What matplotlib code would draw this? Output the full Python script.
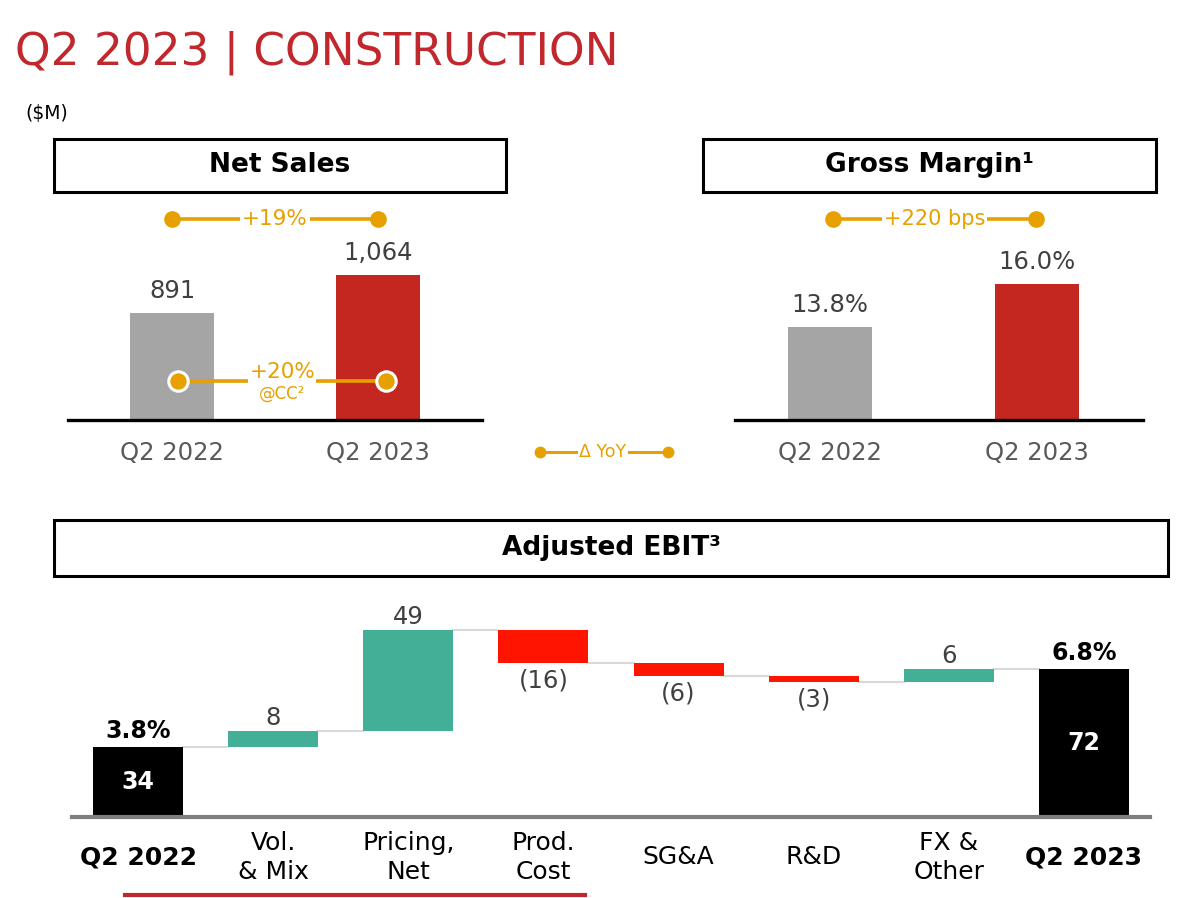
#!/usr/bin/env python3
"""Q2 2023 construction segment: net sales, gross margin and adjusted EBIT bridge."""
import matplotlib; matplotlib.use("Agg")
import matplotlib.pyplot as plt
from matplotlib.patches import Rectangle
from matplotlib.lines import Line2D

# --- data -------------------------------------------------------------
periods = ["Q2 2022", "Q2 2023"]
net_sales = [891, 1064]
gross_margin = [13.8, 16.0]
ns_yoy = "+19%"
ns_cc = "+20%"
gm_yoy = "+220 bps"

bridge_cats = ["Q2 2022", "Vol.\n& Mix", "Pricing,\nNet", "Prod.\nCost",
               "SG&A", "R&D", "FX &\nOther", "Q2 2023"]
ebit_start, ebit_end = 34, 72
bridge_deltas = [8, 49, -16, -6, -3, 6]
ebit_margins = ["3.8%", "6.8%"]

# --- styling ----------------------------------------------------------
RED_T = "#C0282D"
GREY = "#A5A5A5"
RED = "#C4271F"
GOLD = "#E6A000"
TEAL = "#43AF97"
NEG = "#FF1400"
TXT = "#404040"

W, H = 1200, 898
fig = plt.figure(figsize=(W / 100, H / 100), dpi=100)
plt.rcParams["font.family"] = "DejaVu Sans"


def rect(x0, y0, x1, y1):
    return [x0 / W, 1 - y1 / H, (x1 - x0) / W, (y1 - y0) / H]


def header(x0, y0, x1, y1, label):
    fig.add_artist(Rectangle((x0 / W, 1 - y1 / H), (x1 - x0) / W, (y1 - y0) / H,
                             transform=fig.transFigure, fill=False, ec="black", lw=2.2))
    fig.text((x0 + x1) / 2 / W, 1 - (y0 + y1) / 2 / H, label, ha="center",
             va="center", fontsize=19, fontweight="bold")


def connector(ax, x0, x1, yf, label, ms=12, ring=False, fs=15):
    tr = ax.get_xaxis_transform()
    ax.plot([x0, x1], [yf, yf], color=GOLD, lw=2.6, transform=tr, clip_on=False, zorder=4)
    ax.plot([x0, x1], [yf, yf], "o", color=GOLD, ms=ms, transform=tr, clip_on=False,
            zorder=6, mec="white" if ring else GOLD, mew=2.2 if ring else 0)
    ax.text((x0 + x1) / 2, yf, label, transform=tr, ha="center", va="center",
            fontsize=fs, color=GOLD, zorder=5,
            bbox=dict(fc="white", ec="none", pad=1.5))


fig.text(15 / W, 1 - 53 / H, "Q2 2023 | CONSTRUCTION", fontsize=32.7, color=RED_T,
         va="center", ha="left")
fig.text(25 / W, 1 - 113 / H, "($M)", fontsize=13.5, color="black", va="center")

header(54, 139, 506, 192, "Net Sales")
header(703, 139, 1156, 192, "Gross Margin\u00b9")
header(54, 520, 1168, 576, "Adjusted EBIT\u00b3")


def top_chart(ax, vals, fmt, ylim):
    x = range(len(vals))
    ax.bar(x, vals, width=0.405, color=[GREY, RED], zorder=2)
    for i, v in enumerate(vals):
        ax.annotate(fmt(v), (i, v), xytext=(0, 7), textcoords="offset points",
                    ha="center", va="bottom", fontsize=17.5, color=TXT)
    ax.set_ylim(*ylim)
    ax.set_yticks([])
    for s in ("top", "left", "right"):
        ax.spines[s].set_visible(False)
    ax.spines["bottom"].set_linewidth(2.4)
    ax.set_xticks(list(x), periods)
    ax.tick_params(axis="x", length=0, pad=24, labelsize=17.5, labelcolor="#595959")
    for lbl in ax.get_xticklabels():
        lbl.set_va("center")


# Net sales
ax1 = fig.add_axes(rect(68, 200, 482, 420))
top_chart(ax1, net_sales, lambda v: f"{v:,}", (404, 404 + 220 * 4.553))
ax1.set_xlim(-0.505, 1.505)
connector(ax1, 0, 1, (420 - 219) / 220, ns_yoy, fs=15.5)
connector(ax1, 0.03, 1.04, (420 - 381) / 220, "", ms=14, ring=True)
ax1.text(0.535, (420 - 372) / 220, ns_cc, transform=ax1.get_xaxis_transform(),
         ha="center", va="center", fontsize=15.5, color=GOLD, zorder=5,
         bbox=dict(fc="white", ec="none", pad=1))
ax1.text(0.535, (420 - 394) / 220, "@CC\u00b2", transform=ax1.get_xaxis_transform(),
         ha="center", va="center", fontsize=12, color=GOLD, zorder=5)

# Gross margin
ax2 = fig.add_axes(rect(735, 200, 1143, 420))
top_chart(ax2, gross_margin, lambda v: f"{v:.1f}%", (9.04, 9.04 + 220 * 0.05116))
ax2.set_xlim(-0.459, 1.512)
connector(ax2, 0.015, 0.995, (420 - 219) / 220, gm_yoy, fs=15)

# Delta YoY key
fig.add_artist(Line2D([540 / W, 668 / W], [1 - 452 / H] * 2, color=GOLD, lw=2.2,
                      marker="o", ms=7.5, transform=fig.transFigure))
fig.text(603 / W, 1 - 452 / H, "\u0394 YoY", ha="center", va="center", fontsize=12.5,
         color=GOLD, bbox=dict(fc="white", ec="none", pad=1))

# Adjusted EBIT bridge
ax3 = fig.add_axes(rect(72, 600, 1150, 817))
bw = 0.666
ax3.bar(0, ebit_start, width=bw, color="black", zorder=2)
running = ebit_start
levels = [running]
for i, d in enumerate(bridge_deltas, start=1):
    ax3.bar(i, d, bottom=running, width=bw, color=TEAL if d > 0 else NEG, zorder=2)
    if d > 0:
        ax3.annotate(f"{d}", (i, running + d), xytext=(0, 1), textcoords="offset points",
                     ha="center", va="bottom", fontsize=17.5, color=TXT)
    else:
        ax3.annotate(f"({-d})", (i, running + d), xytext=(0, -4), textcoords="offset points",
                     ha="center", va="top", fontsize=17.5, color=TXT)
    running += d
    levels.append(running)
last = len(bridge_cats) - 1
ax3.bar(last, ebit_end, width=bw, color="black", zorder=2)
levels.append(ebit_end)

for i in range(last):
    ax3.plot([i + bw / 2, i + 1 - bw / 2], [levels[i], levels[i]], color="#D9D9D9",
             lw=1.5, zorder=1)

for xi, tot, m in [(0, ebit_start, ebit_margins[0]), (last, ebit_end, ebit_margins[1])]:
    ax3.text(xi, tot / 2, f"{tot}", ha="center", va="center", fontsize=17,
             fontweight="bold", color="white")
    ax3.annotate(m, (xi, tot), xytext=(0, 3), textcoords="offset points",
                 ha="center", va="bottom", fontsize=17, fontweight="bold", color="black")

ax3.set_xlim(-0.489, last + 0.489)
ax3.set_ylim(0, 217 / 2.05)
ax3.set_yticks([])
for s in ("top", "left", "right"):
    ax3.spines[s].set_visible(False)
ax3.spines["bottom"].set_color("#7F7F7F")
ax3.spines["bottom"].set_linewidth(3)
ax3.set_xticks(range(len(bridge_cats)), bridge_cats)
ax3.tick_params(axis="x", length=0, pad=29, labelsize=18, labelcolor="black")
for i, lbl in enumerate(ax3.get_xticklabels()):
    lbl.set_va("center")
    lbl.set_linespacing(1.25)
    if i in (0, last):
        lbl.set_fontweight("bold")

fig.add_artist(Line2D([125 / W, 585 / W], [1 - 895 / H] * 2, color=RED_T, lw=3,
                      transform=fig.transFigure))

fig.savefig("out.png", dpi=100)
